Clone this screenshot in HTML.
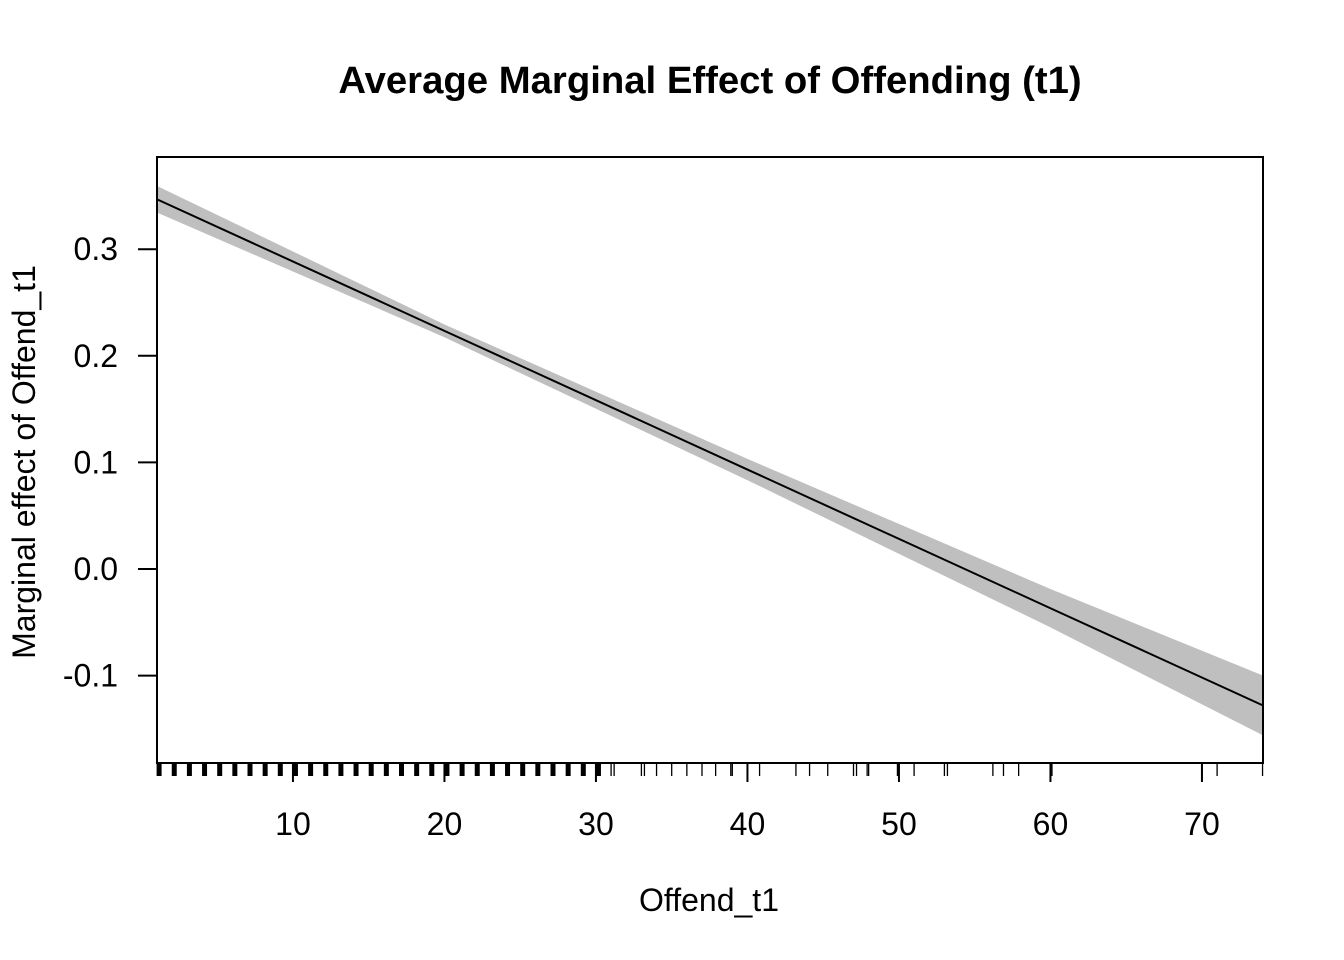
<!DOCTYPE html>
<html><head><meta charset="utf-8"><style>html,body{margin:0;padding:0;background:#fff}svg{display:block}text{font-family:"Liberation Sans",Arial,sans-serif;fill:#000}</style></head>
<body>
<svg id="chart" width="1344" height="960" viewBox="0 0 1344 960" xmlns="http://www.w3.org/2000/svg">
<text x="710" y="93" text-anchor="middle" font-size="38.3" font-weight="bold">Average Marginal Effect of Offending (t1)</text>
<text x="709" y="911" text-anchor="middle" font-size="32">Offend_t1</text>
<text transform="translate(35,462) rotate(-90)" text-anchor="middle" font-size="32">Marginal effect of Offend_t1</text>
<g id="band"></g>
<g id="line"></g>
<g id="rug"></g>
<g id="xaxis"></g>
<g id="yaxis"></g>
<rect x="157" y="157" width="1106" height="606" fill="none" stroke="#000" stroke-width="2"/>
</svg>
<script>
const xPts = [1, 20, 40, 60, 74];
const effect = [0.347, 0.2234, 0.0933, -0.0368, -0.1278];
const lower = [0.3345, 0.2174, 0.0833, -0.0548, -0.1558];
const upper = [0.3595, 0.2294, 0.1033, -0.0188, -0.0998];
const xTicks = [10, 20, 30, 40, 50, 60, 70];
const yTicks = [-0.1, 0.0, 0.1, 0.2, 0.3];
const yTickLabels = ["-0.1", "0.0", "0.1", "0.2", "0.3"];
const rugDense = [1,2,3,4,5,6,7,8,9,10,11,12,13,14,15,16,17,18,19,20,21,22,23,24,25,26,27,28,29,30];
const rugSparse = [31,31.2,33,33.2,34,35,36,37,37.9,38.9,39,40,40.8,43.2,44.1,45.3,47,47.2,47.9,48,49.9,50,51,53,53.2,56.2,56.9,57.9,60,60.1,70,71,74];

const NS = "http://www.w3.org/2000/svg";
const xs = v => 156.6 + (v - 1) * 15.15;
const ys = v => 569 - v * 1066;
function mk(tag, attrs, parent) {
  const e = document.createElementNS(NS, tag);
  for (const k in attrs) e.setAttribute(k, attrs[k]);
  parent.appendChild(e);
  return e;
}
const band = document.getElementById('band');
let d = xPts.map((x, i) => (i ? 'L' : 'M') + xs(x) + ',' + ys(upper[i])).join(' ');
for (let i = xPts.length - 1; i >= 0; i--) d += ' L' + xs(xPts[i]) + ',' + ys(lower[i]);
const bp = mk('path', {d: d + ' Z', fill: '#bfbfbf'}, band);


const lp = mk('path', {d: xPts.map((x, i) => (i ? 'L' : 'M') + xs(x) + ',' + ys(effect[i])).join(' '), fill: 'none', stroke: '#000', 'stroke-width': 2}, document.getElementById('line'));



const rug = document.getElementById('rug');
rugDense.forEach(v => {
  const r = mk('rect', {x: xs(v), y: 764, width: 5, height: 12, fill: '#000'}, rug);
  
  
});
rugSparse.forEach(v => {
  const l = mk('line', {x1: xs(v), x2: xs(v), y1: 764, y2: 776, stroke: '#000', 'stroke-width': 1.3}, rug);
  
  
});

const xa = document.getElementById('xaxis');
xTicks.forEach(v => {
  const l = mk('line', {x1: xs(v), x2: xs(v), y1: 763, y2: 782, stroke: '#000', 'stroke-width': 2}, xa);
  
  
  const t = mk('text', {x: xs(v), y: 835, 'text-anchor': 'middle', 'font-size': 32}, xa);
  t.textContent = v;
  
  
});
const ya = document.getElementById('yaxis');
yTicks.forEach((v, i) => {
  const l = mk('line', {x1: 138, x2: 157, y1: ys(v), y2: ys(v), stroke: '#000', 'stroke-width': 2}, ya);
  
  
  const t = mk('text', {x: 118, y: ys(v) + 11, 'text-anchor': 'end', 'font-size': 32}, ya);
  t.textContent = yTickLabels[i];
  
  
});
</script>
</body></html>
